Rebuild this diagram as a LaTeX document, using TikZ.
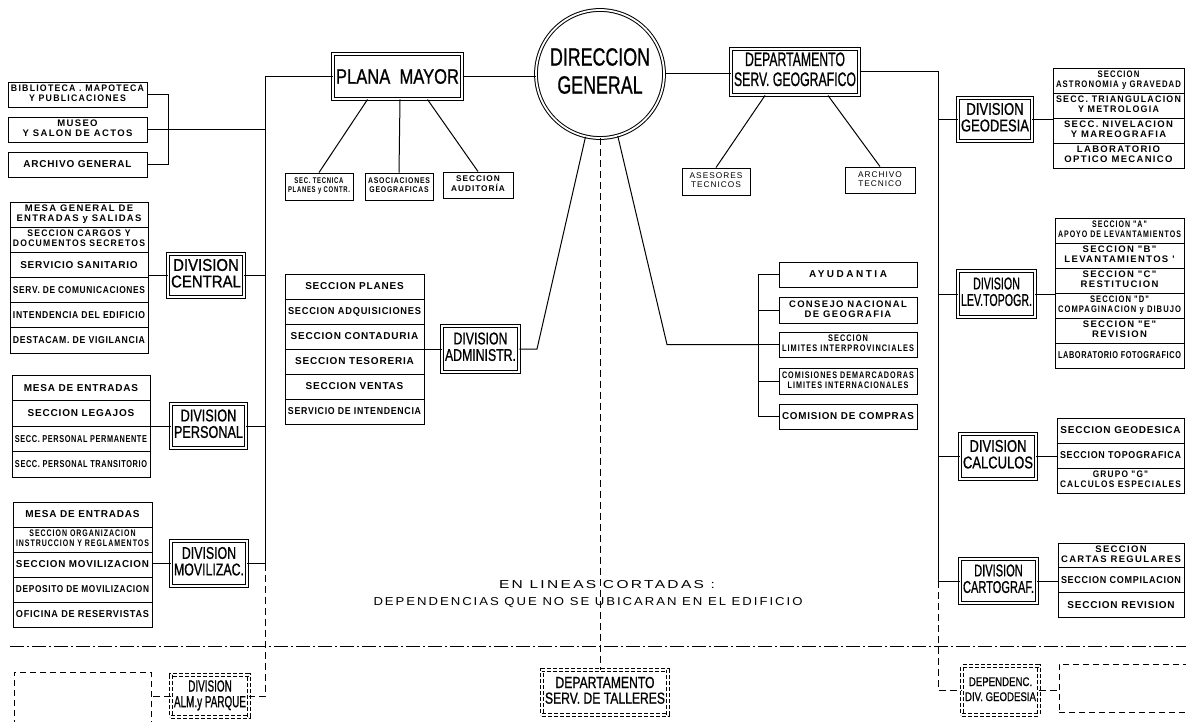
\documentclass[tikz,border=0pt]{standalone}
\usepackage{fontspec}
\usepackage{graphicx}
\setmainfont{Liberation Sans}
\newfontfamily\titlef{Liberation Sans}[FakeStretch=0.88,FakeBold=0.9]
\newfontfamily\boxf{Liberation Sans}[LetterSpace=8]
\newfontfamily\notef{Liberation Sans}[LetterSpace=15]
\usetikzlibrary{calc}

\newsavebox\fitbox
\newcommand\fitto[2]{\sbox\fitbox{#2}\ifdim\wd\fitbox>#1\relax\resizebox{#1}{\height}{\usebox\fitbox}\else\usebox\fitbox\fi}
\newcommand\exactw[2]{\resizebox{#1}{\height}{#2}}
\newcommand\two[2]{{\addfontfeature{LetterSpace=14}\fontsize{9.5}{10}\selectfont\begin{tabular}{@{}c@{}}#1\\#2\end{tabular}}}
\newcommand\twos[2]{{\addfontfeature{LetterSpace=12}\fontsize{8.3}{9}\selectfont\begin{tabular}{@{}c@{}}#1\\#2\end{tabular}}}
\newcommand\dtl[2]{\begin{tabular}{@{}c@{}}#1\\#2\end{tabular}}

% [style] name x1 x2 y1 y2 content
\newcommand\bx[7][]{%
 \pgfmathsetmacro\bw{#4-#3}\pgfmathsetmacro\bh{#6-#5}%
 \pgfmathsetmacro\bcx{(#3+#4)/2}\pgfmathsetmacro\bcy{(#5+#6)/2}%
 \pgfmathsetmacro\tw{#4-#3-6}%
 \node[cell,#1,minimum width=\bw pt,minimum height=\bh pt] (#2) at (\bcx,\bcy) {\fitto{\tw pt}{#7}};}
% name x1 x2 ytop rowh list
\newcommand\subcol[6]{%
 \pgfmathsetmacro\cw{#3-#2}\pgfmathsetmacro\cx{(#2+#3)/2}\pgfmathsetmacro\ctw{#3-#2-6}%
 \foreach \txt [count=\i] in {#6}{%
   \pgfmathsetmacro\cy{#4+(\i-0.5)*#5}%
   \node[cell,minimum width=\cw pt,minimum height=#5 pt] (#1\i) at (\cx,\cy) {\fitto{\ctw pt}{\txt}};}}

\tikzset{
 cell/.style={draw,line width=0.9pt,inner sep=0pt,font=\boxf\bfseries\fontsize{10}{12}\selectfont},
 divb/.style={draw,double,line width=0.9pt,double distance=1.6pt,inner sep=0pt,font=\titlef\fontsize{17}{15.5}\selectfont},
 pmb/.style={draw,double,line width=1pt,double distance=1.5pt,inner sep=0pt},
 ddiv/.style={divb,dash pattern=on 4pt off 2pt},
 empt/.style={draw,line width=0.9pt,dash pattern=on 6pt off 4pt},
 conn/.style={line width=1pt},
 dconn/.style={line width=1pt,dash pattern=on 7pt off 4pt},
}

\begin{document}
\begin{tikzpicture}[x=1pt,y=-1pt]
\useasboundingbox (0,0) rectangle (1186,722);

% ---------- top ----------
\node[circle,draw,double,line width=1pt,double distance=1.8pt,minimum size=128pt,inner sep=0pt,
      font=\titlef\fontsize{25}{28}\selectfont] (dg) at (600,74) {\fitto{100pt}{\dtl{DIRECCION}{GENERAL}}};
\bx[pmb,font=\titlef\fontsize{21}{22}\selectfont]{pm}{333}{462}{54}{99}{PLANA\ \ MAYOR}
\bx[pmb,font=\titlef\fontsize{19.5}{20}\selectfont]{dep}{731}{859}{49}{95}{\dtl{DEPARTAMENTO}{SERV. GEOGRAFICO}}

\bx{s1}{285}{353}{173}{200}{\twos{SEC. TECNICA}{PLANES y CONTR.}}
\bx{s2}{365}{433}{173}{200}{\twos{ASOCIACIONES}{GEOGRAFICAS}}
\bx{s3}{443}{513}{172}{198}{\twos{SECCION}{AUDITORÍA}}
\bx{ase}{682}{750}{168}{195}{\mdseries\addfontfeature{LetterSpace=20}\twos{ASESORES}{TECNICOS}}
\bx{atec}{845}{915}{167}{193}{\mdseries\addfontfeature{LetterSpace=20}\twos{ARCHIVO}{TECNICO}}

% ---------- left ----------
\bx{bib}{8}{147}{82}{107}{\two{BIBLIOTECA . MAPOTECA}{Y PUBLICACIONES}}
\bx{mus}{8}{147}{117}{142}{\two{MUSEO}{Y SALON DE ACTOS}}
\bx{arc}{8}{147}{152}{177}{ARCHIVO GENERAL}

\subcol{cen}{10}{148}{202}{25.17}{{\two{MESA GENERAL DE}{ENTRADAS y SALIDAS}},{\two{SECCION CARGOS Y}{DOCUMENTOS SECRETOS}},SERVICIO SANITARIO,SERV. DE COMUNICACIONES,INTENDENCIA DEL EDIFICIO,DESTACAM. DE VIGILANCIA}
\subcol{per}{12}{150}{375}{25.5}{MESA DE ENTRADAS,SECCION LEGAJOS,SECC. PERSONAL PERMANENTE,SECC. PERSONAL TRANSITORIO}
\subcol{mov}{13}{152}{502}{25}{MESA DE ENTRADAS,{\two{SECCION ORGANIZACION}{INSTRUCCION Y REGLAMENTOS}},SECCION MOVILIZACION,DEPOSITO DE MOVILIZACION,OFICINA DE RESERVISTAS}
\subcol{adm}{285}{424}{274}{25}{SECCION PLANES,SECCION ADQUISICIONES,SECCION CONTADURIA,SECCION TESORERIA,SECCION VENTAS,SERVICIO DE INTENDENCIA}

\bx[divb]{dcen}{168}{244}{254}{297}{\dtl{DIVISION}{CENTRAL}}
\bx[divb]{dper}{171}{246}{404}{448}{\dtl{DIVISION}{PERSONAL}}
\bx[divb]{dmov}{171}{247}{541}{586}{\dtl{DIVISION}{MOVILIZAC.}}
\bx[divb]{dadm}{442}{519}{326}{372}{\dtl{DIVISION}{ADMINISTR.}}

% ---------- middle right ----------
\bx{ay}{779}{917}{262}{287}{\addfontfeature{LetterSpace=25}AYUDANTIA}
\bx{cons}{779}{917}{297}{323}{\two{CONSEJO NACIONAL}{DE GEOGRAFIA}}
\bx{lim}{779}{917}{332}{357}{\two{SECCION}{LIMITES INTERPROVINCIALES}}
\bx{com}{779}{917}{368}{394}{\two{COMISIONES DEMARCADORAS}{LIMITES INTERNACIONALES}}
\bx{cc}{779}{917}{404}{429}{COMISION DE COMPRAS}

% ---------- right ----------
\bx[divb]{dgeo}{958}{1032}{98}{141}{\dtl{DIVISION}{GEODESIA}}
\bx[divb]{dlev}{958}{1035}{271}{317}{\dtl{DIVISION}{LEV.TOPOGR.}}
\bx[divb]{dcal}{960}{1036}{434}{479}{\dtl{DIVISION}{CALCULOS}}
\bx[divb]{dcar}{960}{1037}{559}{603}{\dtl{DIVISION}{CARTOGRAF.}}

\subcol{geo}{1053}{1184}{68}{25}{{\two{SECCION}{ASTRONOMIA y GRAVEDAD}},{\two{SECC. TRIANGULACION}{Y METROLOGIA}},{\two{SECC. NIVELACION}{Y MAREOGRAFIA}},{\two{LABORATORIO}{OPTICO MECANICO}}}
\subcol{lev}{1055}{1184}{218}{25}{{\two{SECCION "A"}{APOYO DE LEVANTAMIENTOS}},{\two{SECCION "B"}{LEVANTAMIENTOS '}},{\two{SECCION "C"}{RESTITUCION}},{\two{SECCION "D"}{COMPAGINACION y DIBUJO}},{\two{SECCION "E"}{REVISION}},LABORATORIO FOTOGRAFICO}
\subcol{cal}{1057}{1184}{418}{25}{SECCION GEODESICA,SECCION TOPOGRAFICA,{\two{GRUPO "G"}{CALCULOS ESPECIALES}}}
\subcol{car}{1058}{1184}{543}{24.7}{{\two{SECCION}{CARTAS REGULARES}},SECCION COMPILACION,SECCION REVISION}

% ---------- bottom ----------
\bx[empt]{eL}{14}{151}{672}{740}{}
\bx[ddiv,font=\titlef\fontsize{16}{15}\selectfont]{alm}{171}{249}{675}{717}{\dtl{DIVISION}{ALM.y PARQUE}}
\bx[ddiv,font=\titlef\fontsize{16}{15}\selectfont]{tal}{542}{668}{670}{715}{\dtl{DEPARTAMENTO}{SERV. DE TALLERES}}
\bx[ddiv,font=\titlef\fontsize{12.5}{15}\selectfont]{dpg}{962}{1039}{666}{715}{\dtl{DEPENDENC.}{DIV. GEODESIA}}
\bx[empt]{eR}{1059}{1200}{664}{712}{}

\node[font=\notef\fontsize{11.5}{13}\selectfont] (n1) at (607,585) {\exactw{216pt}{EN LINEAS CORTADAS :}};
\node[font=\notef\fontsize{11.5}{13}\selectfont] (n2) at (588,603) {\exactw{429pt}{DEPENDENCIAS QUE NO SE UBICARAN EN EL EDIFICIO}};

% ---------- connectors ----------
\coordinate (lbx) at (265,0);
\coordinate (bkx) at (168,0);
\coordinate (rbx) at (938,0);
\coordinate (mbx) at (758,0);
\coordinate (ka) at (537,349);
\coordinate (kb) at (667,344.5);

\draw[conn] (pm.east) -- (pm.east -| dg.west);
\draw[conn] (dg.east) -- (dg.east -| dep.west);
\draw[conn] ($(pm.south)+(-30,0)$) -- (s1.north);
\draw[conn] ($(pm.south)+(2.5,0)$) -- (s2.north);
\draw[conn] ($(pm.south)+(30,0)$) -- (s3.north);
\draw[conn] ($(dep.south)+(-30,0)$) -- (ase.north);
\draw[conn] ($(dep.south)+(33,0)$) -- (atec.north);

\draw[conn] (bib.east) -- (bib.east -| bkx) -- (bkx |- arc.east) -- (arc.east);
\draw[conn] (mus.east) -- (mus.east -| lbx);
\draw[conn] (pm.west) -- (pm.west -| lbx) -- (lbx |- dmov.east) -- (dmov.east);
\draw[conn] (dcen.east) -- (dcen.east -| lbx);
\draw[conn] (dper.east) -- (dper.east -| lbx);
\draw[conn] (dcen.west) -- (dcen.west -| cen3.east);
\draw[conn] (dper.west) -- (dper.west -| per2.east);
\draw[conn] (dmov.west) -- (dmov.west -| mov3.east);
\draw[conn] (dadm.west) -- (dadm.west -| adm3.east);
\draw[conn] (dg.257) -- (ka) -- (dadm.east);

\foreach \n in {ay,cons,lim,com,cc} \draw[conn] (\n.west) -- (\n.west -| mbx);
\draw[conn] (mbx |- ay.west) -- (mbx |- cc.west);
\draw[conn] (dg.286) -- (kb) -- (kb -| mbx);

\draw[conn] (dep.east) -- (dep.east -| rbx) -- (rbx |- dcar.west) -- (dcar.west);
\draw[conn] (dgeo.west) -- (dgeo.west -| rbx);
\draw[conn] (dlev.west) -- (dlev.west -| rbx);
\draw[conn] (dcal.west) -- (dcal.west -| rbx);
\draw[conn] (dgeo.east) -- (dgeo.east -| geo2.west);
\draw[conn] (dlev.east) -- (dlev.east -| lev3.west);
\draw[conn] (dcal.east) -- (dcal.east -| cal2.west);
\draw[conn] (dcar.east) -- (dcar.east -| car2.west);

\draw[dconn] (dg.south) -- (dg.south |- tal.north);
\draw[dconn] (lbx |- dmov.east) -- (lbx |- alm.east) -- (alm.east);
\draw[dconn] (alm.west) -- (alm.west -| eL.east);
\draw[dconn] (rbx |- dcar.west) -- (rbx |- dpg.west) -- (dpg.west);
\draw[dconn] (dpg.east) -- (dpg.east -| eR.west);

\coordinate (hl) at (10,646);
\coordinate (hr) at (1186,646);
\draw[line width=1pt,dash pattern=on 14pt off 3pt on 2pt off 3pt] (hl) -- (hr);
\end{tikzpicture}
\end{document}
